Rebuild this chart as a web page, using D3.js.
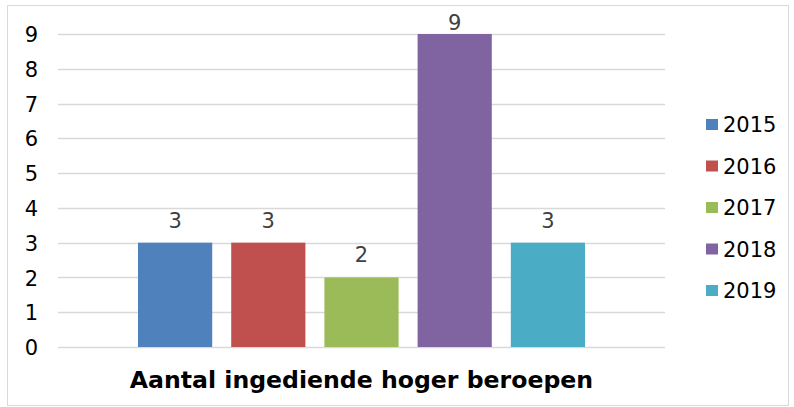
<!DOCTYPE html>
<html><head><meta charset="utf-8">
<script src="https://cdn.jsdelivr.net/npm/d3@7"></script>
<style>html,body{margin:0;padding:0;background:#fff;}svg{display:block;font-family:Verdana,"DejaVu Sans",sans-serif;}</style>
</head><body>
<svg id="c" width="794" height="407"></svg>
<script>
const categories = ["Aantal ingediende hoger beroepen"];
const years = ["2015","2016","2017","2018","2019"];
const values = [3,3,2,9,3];
const colors = ["#4F81BD","#C0504D","#9BBB59","#8064A2","#4BACC6"];
const yTicks = [0,1,2,3,4,5,6,7,8,9];

(function(){
const svg = d3.select("#c");
svg.append("rect").attr("x",7.5).attr("y",5.5).attr("width",781).attr("height",400)
  .attr("fill","#fff").attr("stroke","#D9D9D9").attr("stroke-width",1);

const pL=58,pR=665,pT=34,pB=347;
const y = d3.scaleLinear().domain([0,9]).range([pB,pT]);
const x0 = d3.scaleBand().domain(categories).range([pL,pR]).paddingOuter(0.179).paddingInner(0);
const x1 = d3.scaleBand().domain(years).range([x0(categories[0]), x0(categories[0])+x0.bandwidth()]).paddingInner(0.204).paddingOuter(0);

svg.append("g").selectAll("line").data(yTicks).join("line")
  .attr("x1",pL).attr("x2",pR).attr("y1",d=>Math.round(y(d))+0.5).attr("y2",d=>Math.round(y(d))+0.5)
  .attr("stroke","#D9D9D9").attr("stroke-width",1.5);

const yAxis = d3.axisLeft(y).tickValues(yTicks).tickSize(0).tickPadding(0).tickFormat(d3.format("d"));
const ga = svg.append("g").attr("transform",`translate(38,0)`).call(yAxis);
ga.select(".domain").remove();
ga.selectAll("text").attr("font-size",21).attr("fill","#000").attr("dy","0.36em").attr("font-family",'Verdana,"DejaVu Sans",sans-serif');

const data = years.map((yr,i)=>({yr,v:values[i],c:colors[i]}));
svg.append("g").selectAll("rect").data(data).join("rect")
  .attr("x",d=>x1(d.yr)).attr("width",x1.bandwidth())
  .attr("y",d=>y(d.v)).attr("height",d=>y(0)-y(d.v)).attr("fill",d=>d.c);

svg.append("g").selectAll("text").data(data).join("text")
  .attr("x",d=>x1(d.yr)+x1.bandwidth()/2).attr("y",d=>Math.max(y(d.v)-15, pT-4))
  .attr("text-anchor","middle").attr("font-size",21).attr("fill","#404040").text(d=>d.v);

svg.append("text").attr("x",x0(categories[0])+x0.bandwidth()/2).attr("y",388)
  .attr("text-anchor","middle").attr("font-size",23.6).attr("font-weight","bold").attr("fill","#000")
  .text(categories[0]);

const lg = svg.append("g").selectAll("g").data(data).join("g")
  .attr("transform",(d,i)=>`translate(706,${119+i*41.5})`);
lg.append("rect").attr("width",12).attr("height",11).attr("fill",d=>d.c);
lg.append("text").attr("x",17).attr("y",13).attr("font-size",21).attr("fill","#000").text(d=>d.yr);
})();
</script>
</body></html>
